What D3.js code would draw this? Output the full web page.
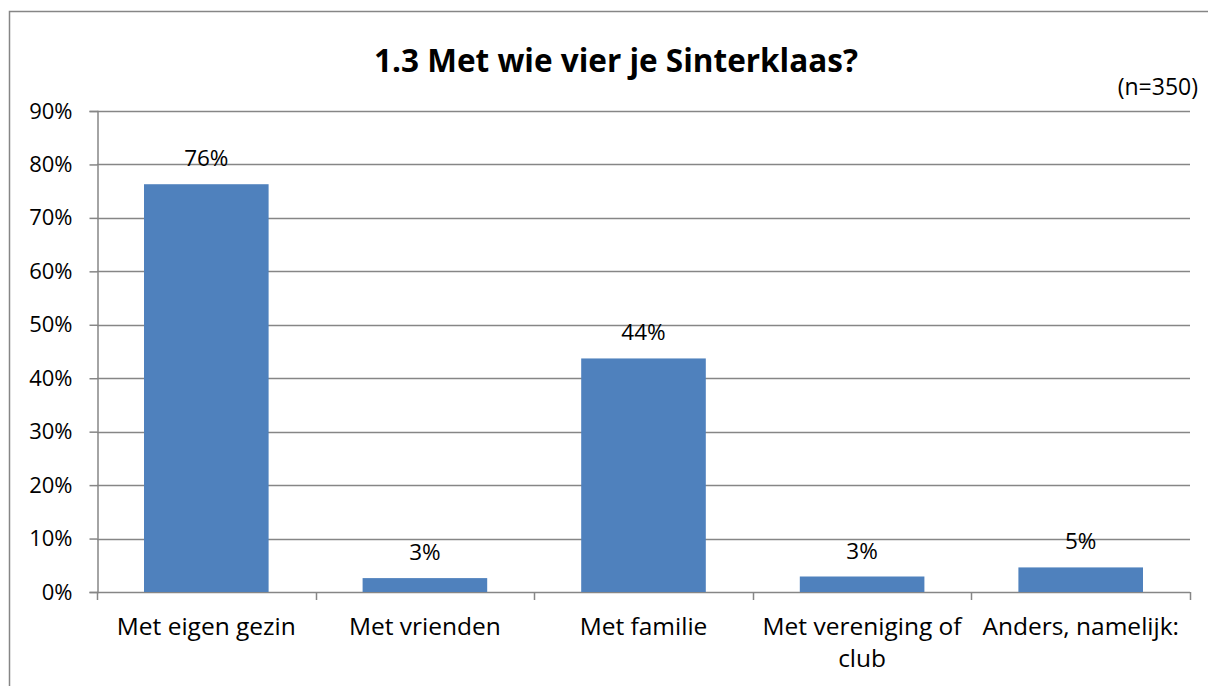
<!DOCTYPE html>
<html>
<head>
<meta charset="utf-8">
<script src="https://cdn.jsdelivr.net/npm/d3@7"></script>
<style>
  body { margin: 0; background: #fff; }
  svg { display: block; }
</style>
</head>
<body>
<div id="chart"></div>
<script>
// Datos del gráfico
const categories = ["Met eigen gezin", "Met vrienden", "Met familie", "Met vereniging of club", "Anders, namelijk:"];
const values = [76.3, 2.6, 43.7, 2.9, 4.6];
const yTicks = [0, 10, 20, 30, 40, 50, 60, 70, 80, 90];
const title = "1.3 Met wie vier je Sinterklaas?";
const note = "(n=350)";

const W = 1208, H = 686;
const margin = { top: 111, right: 18, bottom: 94, left: 97 };
const width = W - margin.left - margin.right;
const height = H - margin.top - margin.bottom;
const font = "'Open Sans', sans-serif";
const grey = "#868686";

const svg = d3.select("#chart").append("svg")
    .attr("width", W)
    .attr("height", H);

// Borde del área del gráfico
svg.append("rect")
    .attr("x", 9.5).attr("y", 11.5)
    .attr("width", W).attr("height", H)
    .attr("fill", "none")
    .attr("stroke", grey)
    .attr("stroke-width", 1.5);

const g = svg.append("g")
    .attr("transform", `translate(${margin.left},${margin.top})`);

// Escalas
const x = d3.scaleBand()
    .domain(categories)
    .range([0, width])
    .paddingInner(0.43)
    .paddingOuter(0.215);

const y = d3.scaleLinear()
    .domain([0, 90])
    .range([height, 0]);

// Líneas de cuadrícula
g.append("g")
    .selectAll("line")
    .data(yTicks)
    .enter()
    .append("line")
    .attr("x1", 0).attr("x2", width)
    .attr("y1", d => Math.round(y(d)) + 0.5)
    .attr("y2", d => Math.round(y(d)) + 0.5)
    .attr("stroke", grey)
    .attr("stroke-width", 1.5);

// Eje Y
const yAxis = g.append("g")
    .attr("transform", "translate(0.5,0)")
    .call(d3.axisLeft(y).tickValues(yTicks).tickSize(8).tickFormat(d => d + "%"));
yAxis.select(".domain").attr("stroke", grey).attr("stroke-width", 1.5);
yAxis.selectAll(".tick line").attr("stroke", grey).attr("stroke-width", 1.5);
yAxis.selectAll(".tick text")
    .attr("x", -25)
    .attr("font-family", font)
    .attr("font-size", "22px")
    .attr("fill", "#000");

// Eje X (marcas entre categorías)
const xTickPos = d3.range(categories.length + 1).map(i => i * width / categories.length);
g.append("g")
    .selectAll("line")
    .data(xTickPos)
    .enter()
    .append("line")
    .attr("x1", d => Math.round(d) + 0.5).attr("x2", d => Math.round(d) + 0.5)
    .attr("y1", height).attr("y2", height + 8)
    .attr("stroke", grey)
    .attr("stroke-width", 1.5);

// Barras
g.selectAll("rect.bar")
    .data(values)
    .enter()
    .append("rect")
    .attr("class", "bar")
    .attr("x", (d, i) => x(categories[i]))
    .attr("width", x.bandwidth())
    .attr("y", d => y(d))
    .attr("height", d => height - y(d))
    .attr("fill", "#4F81BD");

// Etiquetas de valores
g.selectAll("text.lbl")
    .data(values)
    .enter()
    .append("text")
    .attr("class", "lbl")
    .attr("x", (d, i) => x(categories[i]) + x.bandwidth() / 2)
    .attr("y", d => y(d) - 18)
    .attr("text-anchor", "middle")
    .attr("font-family", font)
    .attr("font-size", "22.5px")
    .text(d => Math.round(d) + "%");

// Etiquetas de categorías (con salto de línea)
const wrapped = { "Met vereniging of club": ["Met vereniging of", "club"] };
categories.forEach((c, i) => {
    const lines = wrapped[c] || [c];
    const t = g.append("text")
        .attr("text-anchor", "middle")
        .attr("font-family", font)
        .attr("font-size", "24.5px")
        .attr("x", x(c) + x.bandwidth() / 2)
        .attr("y", height + 43);
    lines.forEach((l, j) => {
        t.append("tspan")
            .attr("x", x(c) + x.bandwidth() / 2)
            .attr("dy", j === 0 ? 0 : 32)
            .text(l);
    });
});

// Título
svg.append("text")
    .attr("x", 616)
    .attr("y", 72)
    .attr("text-anchor", "middle")
    .attr("font-family", font)
    .attr("font-weight", "bold")
    .attr("font-size", "31.5px")
    .text(title);

// Nota (n=350)
svg.append("text")
    .attr("x", 1198)
    .attr("y", 95)
    .attr("text-anchor", "end")
    .attr("font-family", font)
    .attr("font-size", "23px")
    .text(note);
</script>
</body>
</html>
